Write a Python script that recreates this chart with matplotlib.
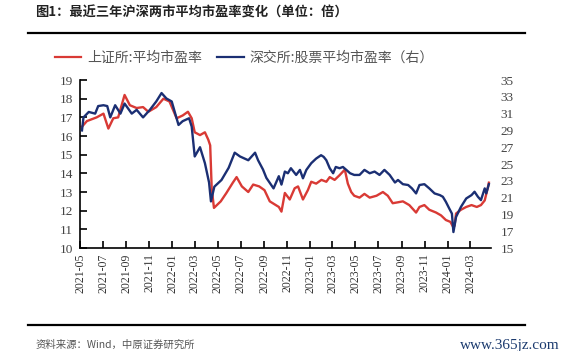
import matplotlib
matplotlib.use('Agg')
import matplotlib.pyplot as plt
import matplotlib.dates as mdates
from matplotlib.lines import Line2D
import pandas as pd

plt.rcParams['font.family'] = ['Noto Sans CJK SC', 'DejaVu Sans']

# 上证所:平均市盈率 (left axis)
sh_dates = ['2021-05-06', '2021-05-19', '2021-06-14', '2021-07-02', '2021-07-15', '2021-07-28',
            '2021-08-10', '2021-08-27', '2021-09-10', '2021-09-28', '2021-10-15', '2021-10-29',
            '2021-11-19', '2021-12-08', '2021-12-24', '2022-01-12', '2022-01-28', '2022-02-11',
            '2022-02-21', '2022-03-01', '2022-03-15', '2022-03-28', '2022-04-06', '2022-04-11',
            '2022-04-15', '2022-04-21', '2022-05-09', '2022-05-24', '2022-06-10', '2022-06-20',
            '2022-07-04', '2022-07-21', '2022-08-03', '2022-08-19', '2022-09-02', '2022-09-16',
            '2022-10-10', '2022-10-17', '2022-10-26', '2022-11-08', '2022-11-21', '2022-11-30',
            '2022-12-13', '2022-12-26', '2023-01-04', '2023-01-17', '2023-01-31', '2023-02-13',
            '2023-02-22', '2023-03-07', '2023-03-20', '2023-04-03', '2023-04-11', '2023-04-20',
            '2023-04-28', '2023-05-12', '2023-05-25', '2023-06-08', '2023-06-26', '2023-07-13',
            '2023-07-26', '2023-08-08', '2023-08-22', '2023-09-04', '2023-09-21', '2023-10-09',
            '2023-10-18', '2023-10-31', '2023-11-13', '2023-12-01', '2023-12-14', '2023-12-27',
            '2024-01-08', '2024-01-16', '2024-01-19', '2024-01-23', '2024-02-05', '2024-02-19',
            '2024-03-04', '2024-03-18', '2024-03-29', '2024-04-08', '2024-04-17', '2024-04-19']
sh_pe = [16.5, 16.8, 17.0, 17.2, 16.4, 16.95,
         17.0, 18.2, 17.65, 17.5, 17.55, 17.3,
         17.55, 18.0, 17.85, 16.95, 17.1, 17.3,
         16.95, 16.2, 16.05, 16.2, 15.8, 15.5,
         13.2, 12.15, 12.5, 12.95, 13.5, 13.8,
         13.3, 13.0, 13.4, 13.3, 13.1, 12.5,
         12.2, 11.95, 12.95, 12.6, 13.2, 13.3,
         12.6, 13.1, 13.55, 13.45, 13.65, 13.55,
         13.8, 13.65, 13.9, 14.2, 13.45, 13.0,
         12.8, 12.7, 12.9, 12.7, 12.8, 13.0,
         12.8, 12.4, 12.45, 12.5, 12.3, 11.9,
         12.2, 12.3, 12.05, 11.9, 11.75, 11.5,
         11.4, 11.1, 11.2, 11.85, 12.05, 12.2,
         12.3, 12.2, 12.3, 12.55, 13.3, 13.5]

# 深交所:股票平均市盈率 (right axis)
sz_dates = ['2021-05-06', '2021-05-10', '2021-05-24', '2021-06-10', '2021-06-18', '2021-07-02',
            '2021-07-12', '2021-07-20', '2021-08-02', '2021-08-16', '2021-08-27', '2021-09-15',
            '2021-09-28', '2021-10-15', '2021-11-02', '2021-11-19', '2021-12-03', '2021-12-16',
            '2021-12-30', '2022-01-17', '2022-01-28', '2022-02-14', '2022-02-21', '2022-03-01',
            '2022-03-15', '2022-03-28', '2022-04-08', '2022-04-13', '2022-04-22', '2022-05-11',
            '2022-05-30', '2022-06-15', '2022-06-29', '2022-07-21', '2022-08-08', '2022-08-16',
            '2022-08-29', '2022-09-07', '2022-09-26', '2022-10-10', '2022-10-17', '2022-10-26',
            '2022-11-03', '2022-11-11', '2022-11-25', '2022-12-05', '2022-12-13', '2022-12-22',
            '2023-01-04', '2023-01-17', '2023-01-30', '2023-02-06', '2023-02-13', '2023-02-22',
            '2023-03-03', '2023-03-10', '2023-03-20', '2023-03-29', '2023-04-07', '2023-04-17',
            '2023-04-28', '2023-05-12', '2023-05-25', '2023-06-08', '2023-06-21', '2023-07-04',
            '2023-07-17', '2023-07-31', '2023-08-14', '2023-08-22', '2023-09-04', '2023-09-18',
            '2023-09-28', '2023-10-09', '2023-10-18', '2023-10-31', '2023-11-13', '2023-11-27',
            '2023-12-11', '2023-12-19', '2023-12-27', '2024-01-05', '2024-01-12', '2024-01-16',
            '2024-01-23', '2024-02-05', '2024-02-19', '2024-03-04', '2024-03-12', '2024-03-21',
            '2024-03-29', '2024-04-08', '2024-04-12', '2024-04-19']
sz_pe = [29.0, 30.55, 31.2, 31.0, 31.9, 32.0,
         31.9, 30.55, 32.0, 31.0, 32.2, 31.0,
         31.45, 30.55, 31.45, 32.45, 33.45, 32.8,
         32.45, 29.65, 30.1, 30.45, 29.45, 25.9,
         27.0, 25.1, 22.8, 20.55, 22.3, 23.1,
         24.55, 26.35, 25.9, 25.45, 26.35, 25.45,
         24.35, 23.35, 22.1, 23.55, 22.55, 24.1,
         23.9, 24.5, 23.7, 24.3, 23.3, 24.3,
         25.1, 25.65, 26.05, 25.85, 25.45, 24.5,
         23.9, 24.65, 24.5, 24.65, 24.3, 23.9,
         23.7, 23.7, 24.3, 23.9, 24.1, 23.7,
         24.3, 23.7, 22.8, 23.1, 22.6, 22.5,
         22.1, 21.5, 22.5, 22.6, 22.1, 21.5,
         21.3, 21.1, 20.5, 19.7, 19.1, 16.9,
         18.7, 19.9, 20.9, 21.3, 21.7, 21.1,
         20.7, 22.1, 21.5, 22.6]

RED = '#d93a35'
BLUE = '#1b2f73'
serif = ['Liberation Serif', 'Noto Sans CJK SC']

fig = plt.figure(figsize=(5.68, 3.51), dpi=100)
ax = fig.add_axes([0.141, 0.2934, 0.723, 0.4786])
ax2 = ax.twinx()

ax.plot(pd.to_datetime(sh_dates), sh_pe, color=RED, lw=1.7)
ax2.plot(pd.to_datetime(sz_dates), sz_pe, color=BLUE, lw=1.7)

ax.set_xlim(pd.Timestamp('2021-05-01'), pd.Timestamp('2024-04-24'))
ax.set_ylim(10, 19)
ax.set_yticks(range(10, 20))
ax2.set_ylim(15, 35)
ax2.set_yticks(range(15, 36, 2))

ax.xaxis.set_major_locator(mdates.MonthLocator(bymonth=[1, 3, 5, 7, 9, 11]))
ax.xaxis.set_major_formatter(mdates.DateFormatter('%Y-%m'))

for s in ['top', 'right']:
    ax.spines[s].set_visible(False)
for s in ['top', 'right', 'left', 'bottom']:
    ax2.spines[s].set_visible(False)
ax.spines['left'].set_linewidth(1.2)
ax.spines['bottom'].set_linewidth(1.2)

ax.tick_params(axis='y', direction='in', length=5, width=1.2, labelsize=9.5,
               labelcolor='#444444', pad=5)
ax.tick_params(axis='x', direction='in', length=5, width=1.2, labelsize=8.5,
               labelcolor='#333333', labelrotation=90, pad=4)
ax2.tick_params(axis='y', length=0, labelsize=9.5, labelcolor='#444444', pad=7)
for lab in ax.get_xticklabels() + ax.get_yticklabels() + ax2.get_yticklabels():
    lab.set_family(serif)

# title, rules, legend, source
fig.text(0.062, 0.963, '图1：最近三年沪深两市平均市盈率变化（单位：倍）', fontsize=9.5,
         fontweight='bold', color='#222222', va='center', ha='left')
fig.add_artist(Line2D([0.049, 0.924], [0.907, 0.907], color='black', lw=1.6))
fig.add_artist(Line2D([0.049, 0.924], [0.074, 0.074], color='black', lw=1.6))

handles = [Line2D([], [], color=RED, lw=1.6), Line2D([], [], color=BLUE, lw=1.6)]
leg = fig.legend(handles, ['上证所:平均市盈率', '深交所:股票平均市盈率（右）'],
                 loc='center left', bbox_to_anchor=(0.075, 0.835), ncol=2, frameon=False,
                 fontsize=10, handlelength=1.9, handletextpad=0.4, columnspacing=1.1)
for t in leg.get_texts():
    t.set_color('#555555')

fig.text(0.062, 0.017, '资料来源：Wind，中原证券研究所', fontsize=7.5, color='#555555',
         va='center', ha='left')
fig.text(0.985, 0.017, 'www.365jz.com', fontsize=11, color='#1b3a6e', va='center',
         ha='right', family=serif)

fig.savefig('out.png', dpi=100)
